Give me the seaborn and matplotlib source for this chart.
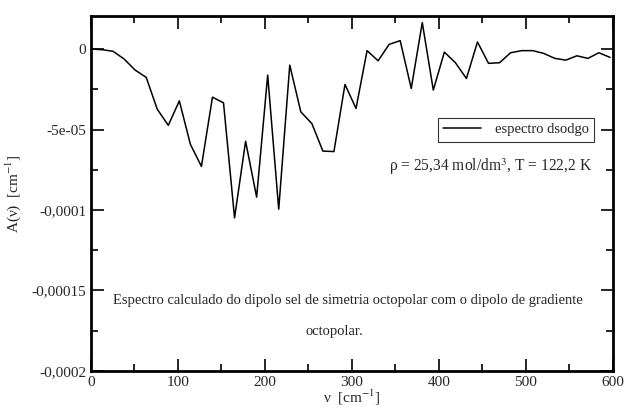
import numpy as np
import pandas as pd
import seaborn as sns
import matplotlib.pyplot as plt
from matplotlib.ticker import FixedLocator, FixedFormatter, MultipleLocator

# values
freq = [0, 12.7, 25.4, 38.1, 50.8, 63.5, 76.2, 88.9, 101.6, 114.3, 127.0, 139.7,
        152.4, 165.1, 177.8, 190.5, 203.2, 215.9, 228.6, 241.3, 254.0, 266.7,
        279.4, 292.1, 304.8, 317.5, 330.2, 342.9, 355.6, 368.3, 381.0, 393.7,
        406.4, 419.1, 431.8, 444.5, 457.2, 469.9, 482.6, 495.3, 508.0, 520.7,
        533.4, 546.1, 558.8, 571.5, 584.2, 596.9]
absorb = [0.0, -0.04e-5, -0.14e-5, -0.62e-5, -1.31e-5, -1.76e-5, -3.74e-5, -4.74e-5,
          -3.22e-5, -5.92e-5, -7.29e-5, -2.99e-5, -3.34e-5, -10.49e-5, -5.73e-5,
          -9.2e-5, -1.62e-5, -9.95e-5, -1.0e-5, -3.9e-5, -4.63e-5, -6.34e-5,
          -6.37e-5, -2.2e-5, -3.69e-5, -0.1e-5, -0.73e-5, 0.29e-5, 0.52e-5,
          -2.45e-5, 1.64e-5, -2.55e-5, -0.19e-5, -0.85e-5, -1.83e-5, 0.44e-5,
          -0.89e-5, -0.85e-5, -0.23e-5, -0.1e-5, -0.1e-5, -0.27e-5, -0.58e-5,
          -0.69e-5, -0.42e-5, -0.58e-5, -0.23e-5, -0.52e-5]

yticks = [0, -5e-5, -1e-4, -1.5e-4, -2e-4]
ylabels = ["0", "-5e-05", "-0,0001", "-0,00015", "-0,0002"]
xticks = [0, 100, 200, 300, 400, 500, 600]

df = pd.DataFrame({"nu": freq, "A": absorb})

sns.set_style("ticks")
plt.rcParams['font.family'] = ['Liberation Serif', 'DejaVu Serif']
plt.rcParams['mathtext.fontset'] = 'stix'

fig = plt.figure(figsize=(6.25, 4.09), dpi=100)
ax = fig.add_axes([0.1456, 0.093, 0.8347, 0.867])

sns.lineplot(data=df, x="nu", y="A", color="black", linewidth=1.1,
             label="espectro dsodgo", ax=ax)

ax.set_xlim(0, 600)
ax.set_ylim(-2e-4, 2.03e-5)
ax.xaxis.set_major_locator(FixedLocator(xticks))
ax.xaxis.set_minor_locator(MultipleLocator(50))
ax.yaxis.set_major_locator(FixedLocator(yticks))
ax.yaxis.set_major_formatter(FixedFormatter(ylabels))
ax.yaxis.set_minor_locator(MultipleLocator(2.5e-5))
ax.tick_params(which="both", direction="in", top=True, right=True,
               labelsize=11, width=1.2, color="black")
ax.tick_params(which="major", length=9)
ax.tick_params(which="minor", length=5)
for s in ax.spines.values():
    s.set_linewidth(2)
    s.set_color("black")

ax.set_xlabel("ν  [cm$^{-1}$]", fontsize=11, labelpad=-1)
ax.set_ylabel("A(ν)  [cm$^{-1}$]", fontsize=11)
ax.yaxis.set_label_coords(-0.13, 0.5)

leg = ax.legend(loc="upper right", bbox_to_anchor=(0.964, 0.713), fontsize=10.5,
                frameon=True, fancybox=False, handlelength=2.6,
                borderpad=0.35, handletextpad=0.95, borderaxespad=0)
leg.get_frame().set_edgecolor("black")
leg.get_frame().set_linewidth(0.8)

ax.text(459, -7.31e-5, "ρ = 25,34 mol/dm$^3$, T = 122,2 K", fontsize=11.2,
        ha="center", va="center")
ax.text(296, -1.563e-4,
        "Espectro calculado do dipolo sel de simetria octopolar com o dipolo de gradiente",
        fontsize=10.5, ha="center", va="center")
ax.text(280, -1.756e-4, "octopolar.", fontsize=10.5, ha="center", va="center")

fig.savefig("out.png", dpi=100)
